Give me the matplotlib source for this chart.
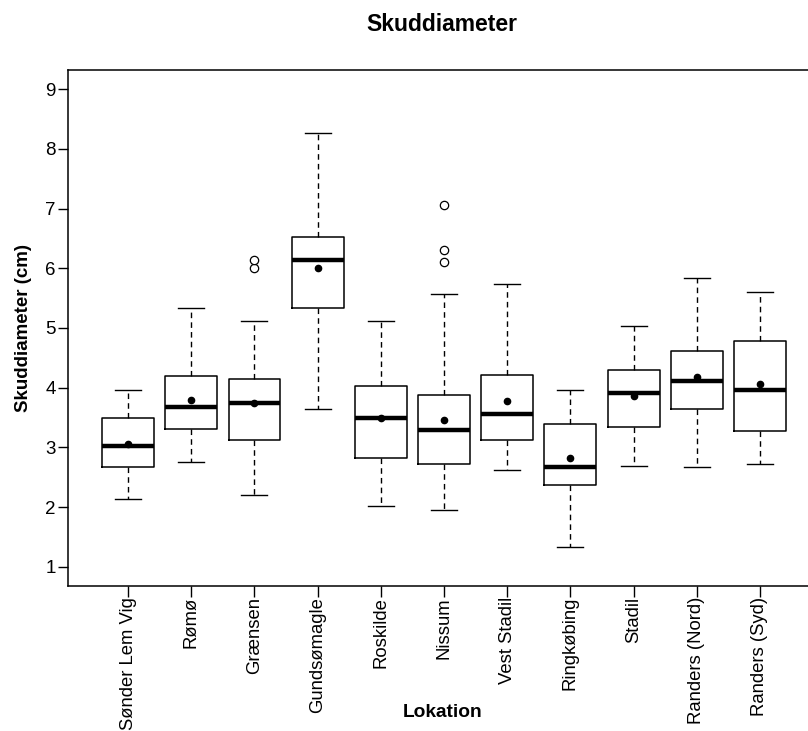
import matplotlib
matplotlib.use("Agg")
import matplotlib.pyplot as plt

plt.rcParams["font.family"] = ["Liberation Sans", "DejaVu Sans"]

# --- data ---
locations = ["Sønder Lem Vig", "Rømø", "Grænsen", "Gundsømagle", "Roskilde", "Nissum",
             "Vest Stadil", "Ringkøbing", "Stadil", "Randers (Nord)", "Randers (Syd)"]
whisk_lo = [2.13, 2.76, 2.21, 3.64, 2.02, 1.96, 2.63, 1.34, 2.69, 2.67, 2.72]
q1       = [2.67, 3.31, 3.13, 5.33, 2.83, 2.73, 3.13, 2.37, 3.35, 3.64, 3.28]
median   = [3.02, 3.68, 3.74, 6.14, 3.50, 3.29, 3.56, 2.67, 3.92, 4.12, 3.96]
q3       = [3.50, 4.19, 4.14, 6.52, 4.03, 3.88, 4.22, 3.40, 4.30, 4.62, 4.78]
whisk_hi = [3.96, 5.33, 5.12, 8.27, 5.11, 5.57, 5.73, 3.96, 5.03, 5.84, 5.60]
means    = [3.05, 3.80, 3.74, 6.01, 3.50, 3.46, 3.78, 2.83, 3.87, 4.18, 4.06]
outliers = [[], [], [6.00, 6.14], [], [], [6.11, 6.31, 7.06], [], [], [], [], []]

stats = []
for i, name in enumerate(locations):
    stats.append(dict(label=name, whislo=whisk_lo[i], q1=q1[i], med=median[i],
                      q3=q3[i], whishi=whisk_hi[i], mean=means[i], fliers=outliers[i]))

fig = plt.figure(figsize=(8.08, 7.31), dpi=100)
ax = fig.add_axes([0.0842, 0.1984, 0.9158, 0.7058])

pos = list(range(1, len(locations) + 1))
ax.bxp(stats, positions=pos, widths=0.82, showmeans=True, patch_artist=False,
       boxprops=dict(color="black", linewidth=1.1),
       whiskerprops=dict(color="black", linewidth=1.0, linestyle=(0, (4, 3))),
       capprops=dict(color="black", linewidth=1.0),
       medianprops=dict(color="black", linewidth=3.2, solid_capstyle="butt"),
       meanprops=dict(marker="o", markerfacecolor="black", markeredgecolor="black",
                      markersize=4.5),
       flierprops=dict(marker="o", markerfacecolor="white", markeredgecolor="black",
                       markersize=6, markeredgewidth=0.9))

ax.set_xlim(0.05, 11.76)
ax.set_ylim(0.682, 9.318)
ax.set_yticks(range(1, 10))
ax.set_xticks(pos)
ax.set_xticklabels(locations, rotation=90, fontsize=13.3)
ax.tick_params(axis="y", labelsize=13.5, length=7, width=1, pad=2)
ax.tick_params(axis="x", length=8, width=1, pad=0)
for s in ax.spines.values():
    s.set_linewidth(1.1)
ax.spines["right"].set_visible(False)  # reference is cropped at the right edge

ax.set_ylabel("Skuddiameter (cm)", fontsize=13.5, fontweight="bold")
ax.yaxis.set_label_coords(-0.049, 0.5)
fig.text(0.548, 0.025, "Lokation", fontsize=13.8, fontweight="bold", ha="center", va="center")
fig.text(0.547, 0.966, "Skuddiameter", fontsize=16.5, fontweight="bold", ha="center", va="center")

fig.savefig("out.png", dpi=100)
